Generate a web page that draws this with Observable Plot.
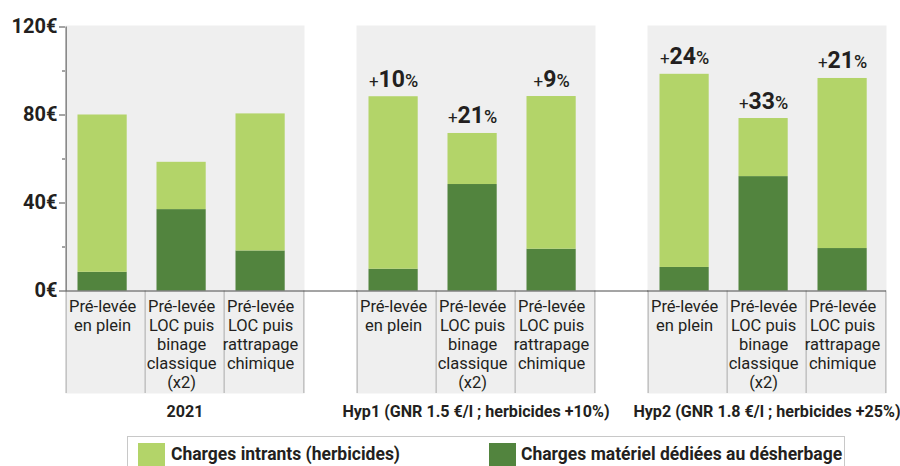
<!DOCTYPE html>
<html>
<head>
<meta charset="utf-8">
<script src="https://cdn.jsdelivr.net/npm/d3@7"></script>
<script src="https://cdn.jsdelivr.net/npm/@observablehq/plot@0.6"></script>
<style>
  body { margin: 0; background: #fff; font-family: Roboto, sans-serif; color: #231f20; }
  #wrap { position: relative; width: 900px; height: 466px; overflow: hidden; }
  #legend { position: absolute; left: 127px; top: 436px; width: 718px; height: 44px; border: 1px solid #c8c8c8; box-sizing: border-box; }
  .sw { position: absolute; top: 6px; width: 27px; height: 34px; }
  .lt { position: absolute; top: 7px; font-weight: bold; font-size: 17.5px; line-height: 20px; white-space: nowrap; }
</style>
</head>
<body>
<div id="wrap"></div>
<script>
// ---- data ----
const groups = ["2021", "Hyp1 (GNR 1.5 €/l ; herbicides +10%)", "Hyp2 (GNR 1.8 €/l ; herbicides +25%)"];
const categories = [
  "Pré-levée\nen plein",
  "Pré-levée\nLOC puis\nbinage\nclassique\n(x2)",
  "Pré-levée\nLOC puis\nrattrapage\nchimique"
];
const series = ["Charges matériel dédiées au désherbage", "Charges intrants (herbicides)"];
// € per group (rows) and category (columns)
const materiel = [
  [8.5, 37.0, 18.2],
  [9.9, 48.4, 19.0],
  [10.7, 52.0, 19.3]
];
const intrants = [
  [71.5, 21.5, 62.3],
  [78.4, 23.2, 69.4],
  [87.8, 26.4, 77.3]
];
const pctIncrease = [
  [null, null, null],
  [10, 21, 9],
  [24, 33, 21]
];
const yTicks = [0, 40, 80, 120];
const yMinorTicks = [20, 60, 100];

// ---- styles ----
const LIGHT = "#b3d469", DARK = "#52843e", PANEL = "#efefef", SEP = "#a9a9a9", AXIS = "#4a4a4a", TEXT = "#231f20";

const rows = [];
groups.forEach((g, gi) => categories.forEach((c, ci) => {
  rows.push({g, c, s: series[0], v: materiel[gi][ci], p: null});
  rows.push({g, c, s: series[1], v: intrants[gi][ci], p: pctIncrease[gi][ci]});
}));

const W = 900, H = 432, mL = 64, mR = 13, mT = 26.5, mB = 141.5;
const fxPad = 0.18;
const fxStep = (W - mL - mR) / (groups.length - fxPad);
const gap = fxStep * fxPad;
const step = fxStep * (1 - fxPad) / categories.length;
const plotH = H - mT - mB;
const labelH = 102.5;
const barShift = -3.4;

const chart = Plot.plot({
  width: W, height: H,
  marginLeft: mL, marginRight: mR, marginTop: mT, marginBottom: mB,
  style: {fontFamily: "Roboto, sans-serif", fontSize: "16.5px", color: TEXT, background: "#fff", overflow: "visible"},
  fx: {domain: groups, paddingInner: fxPad, paddingOuter: 0, axis: null, label: null},
  x: {domain: categories, padding: 0, label: null},
  y: {domain: [0, 120], label: null},
  color: {domain: series, range: [DARK, LIGHT]},
  marks: [
    Plot.frame({fill: PANEL, stroke: null, insetTop: -1.5, insetBottom: -labelH}),
    Plot.ruleX(categories, {x: d => d, dx: -step / 2, stroke: SEP, insetTop: plotH, insetBottom: -labelH}),
    Plot.ruleX(categories.slice(-1), {x: d => d, dx: step / 2, stroke: SEP, insetTop: plotH, insetBottom: -labelH}),
    Plot.barY(rows, {fx: "g", x: "c", y: "v", fill: "s", insetLeft: 11.5, insetRight: 18.3}),
    Plot.ruleY(groups.slice(0, -1), {fx: d => d, y: 0, insetRight: -gap, stroke: AXIS}),
    Plot.ruleY(groups.slice(-1), {fx: d => d, y: 0, stroke: AXIS}),
    Plot.ruleX([0], {fx: () => groups[0], x: () => categories[0], dx: -step / 2, stroke: AXIS}),
    Plot.axisY({ticks: yTicks, tickFormat: d => `${d}€`, tickSize: 6, tickPadding: 2, fontSize: 20, fontWeight: "bold", stroke: AXIS}),
    Plot.axisY({ticks: yMinorTicks, tickFormat: () => "", tickSize: 3, stroke: AXIS}),
    Plot.axisX({tickSize: 0, tickPadding: 8, fontSize: 16.5, lineHeight: 1.15, dx: barShift}),
    Plot.text(groups, {fx: d => d, text: d => d, frameAnchor: "bottom", dy: 120.5, lineAnchor: "middle", fontWeight: "bold", fontSize: 16.1}),
    Plot.text(rows, Plot.stackY2({
      fx: "g", x: "c", y: "v", z: "s",
      text: d => d.p == null ? null : `+${d.p}%`,
      lineAnchor: "bottom", dy: -10, dx: barShift, fontSize: 23, fontWeight: "bold"
    }))
  ]
});

// rich text for the percentage labels: small "+", big bold number, smaller "%"
const ns = "http://www.w3.org/2000/svg";
chart.querySelectorAll("text").forEach(t => {
  const m = t.textContent.match(/^(\+)(\d+)(%)$/);
  if (!m) return;
  t.textContent = "";
  const parts = [[m[1], 17, "normal"], [m[2], 23, "bold"], [m[3], 18, "500"]];
  for (const [txt, fs, fw] of parts) {
    const ts = document.createElementNS(ns, "tspan");
    ts.setAttribute("font-size", fs);
    ts.setAttribute("font-weight", fw);
    ts.textContent = txt;
    t.appendChild(ts);
  }
});

const wrap = document.getElementById("wrap");
wrap.appendChild(chart);

// legend
const legend = document.createElement("div");
legend.id = "legend";
const legendItems = [
  {label: series[1], color: LIGHT, swLeft: 10, txtLeft: 43},
  {label: series[0], color: DARK, swLeft: 361, txtLeft: 393}
];
for (const it of legendItems) {
  const sw = document.createElement("div");
  sw.className = "sw"; sw.style.left = it.swLeft + "px"; sw.style.background = it.color;
  const tx = document.createElement("div");
  tx.className = "lt"; tx.style.left = it.txtLeft + "px"; tx.textContent = it.label;
  legend.appendChild(sw); legend.appendChild(tx);
}
wrap.appendChild(legend);
</script>
</body>
</html>
